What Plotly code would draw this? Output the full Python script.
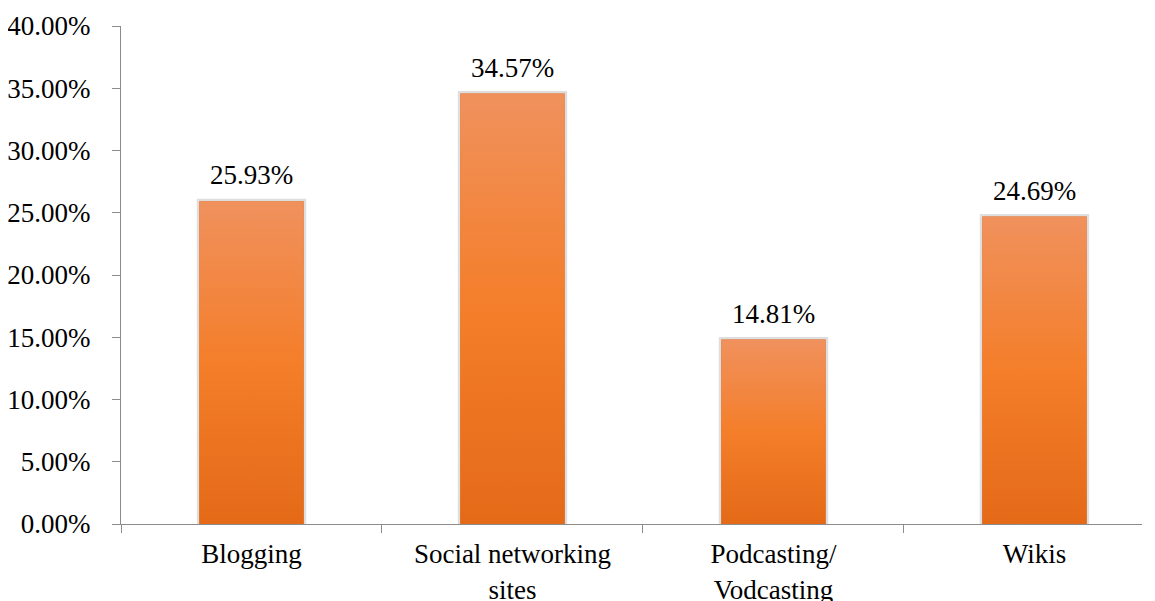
import plotly.graph_objects as go

categories = ["Blogging", "Social networking<br>sites", "Podcasting/<br>Vodcasting", "Wikis"]
values = [0.2593, 0.3457, 0.1481, 0.2469]
y_ticks = [0, 0.05, 0.10, 0.15, 0.20, 0.25, 0.30, 0.35, 0.40]

FONT = "Liberation Serif"
FS = 27
BAR_W = 0.40
XR = [-0.5, 3.412]

fig = go.Figure()

fig.add_trace(go.Bar(
    x=categories, y=values, width=BAR_W,
    marker=dict(color="#F27B2A", line=dict(width=0)),
    showlegend=False, hoverinfo="x+y",
))

# soft shadow outline
for i, v in enumerate(values):
    x0, x1 = i - BAR_W / 2, i + BAR_W / 2
    fig.add_trace(go.Scatter(
        x=[x0, x1, x1, x0, x0], y=[0, 0, v, v, 0],
        xaxis="x2", mode="lines", line=dict(width=5, color="rgba(0,0,0,0.13)"),
        showlegend=False, hoverinfo="skip",
    ))

# gradient fill
for i, v in enumerate(values):
    x0, x1 = i - BAR_W / 2, i + BAR_W / 2
    fig.add_trace(go.Scatter(
        x=[x0, x1, x1, x0, x0], y=[0, 0, v, v, 0],
        xaxis="x2", mode="lines", line=dict(width=0),
        fill="toself",
        fillgradient=dict(type="vertical",
                          colorscale=[[0, "#E46A18"], [0.5, "#F47E2A"], [1, "#F0915D"]]),
        showlegend=False, hoverinfo="skip",
    ))

for c, v in zip(categories, values):
    fig.add_annotation(x=c, y=v, xref="x", yref="y", text=f"{v*100:.2f}%",
                       showarrow=False, yanchor="bottom", yshift=9,
                       font=dict(family=FONT, size=FS, color="black"))

fig.update_layout(
    width=1155, height=601,
    margin=dict(l=113, r=21, t=18, b=85),
    paper_bgcolor="white", plot_bgcolor="white",
    font=dict(family=FONT, size=FS, color="black"),
    xaxis=dict(type="category", range=XR, showline=True, linecolor="#8C8C8C", linewidth=1,
               ticks="outside", tickson="boundaries", ticklen=8, tickcolor="#8C8C8C",
               showgrid=False, zeroline=False, automargin=False, ticklabelstandoff=6,
               tickfont=dict(family=FONT, size=FS, color="black")),
    xaxis2=dict(type="linear", range=XR, overlaying="x", visible=False),
    yaxis=dict(range=[0, 0.40], tickvals=y_ticks, tickformat=".2%", showline=True,
               linecolor="#8C8C8C", linewidth=1, ticks="outside", ticklen=8,
               tickcolor="#8C8C8C", showgrid=False, zeroline=False, automargin=False,
               ticklabelstandoff=16, tickfont=dict(family=FONT, size=FS, color="black")),
)

fig.write_html("out.html")
